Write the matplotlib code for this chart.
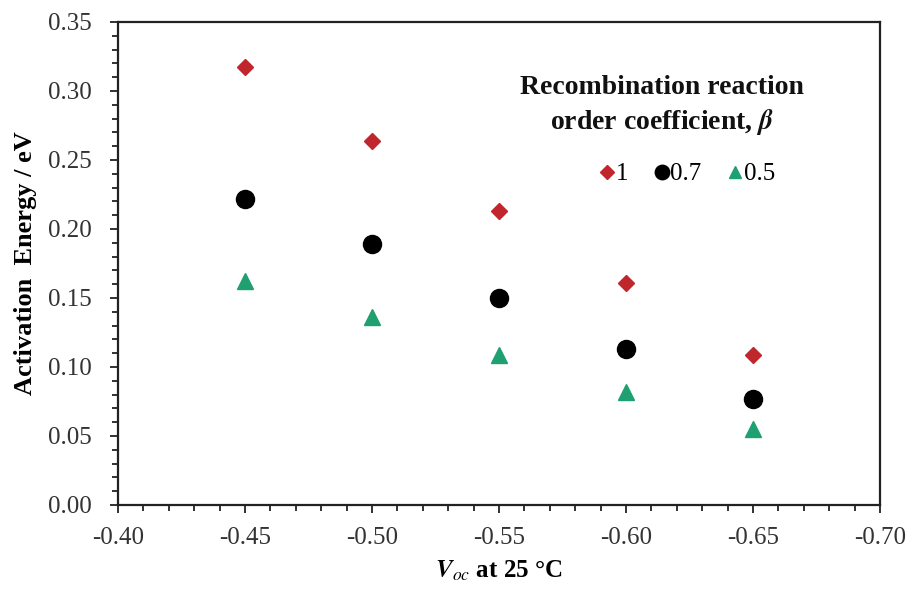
import matplotlib.pyplot as plt
from matplotlib.ticker import MultipleLocator, FormatStrFormatter

# data
voc = [-0.45, -0.50, -0.55, -0.60, -0.65]
ea_beta_1 = [0.317, 0.264, 0.213, 0.161, 0.109]
ea_beta_07 = [0.222, 0.189, 0.150, 0.113, 0.077]
ea_beta_05 = [0.162, 0.136, 0.109, 0.082, 0.055]
labels = ['1', '0.7', '0.5']

plt.rcParams['font.family'] = ['Liberation Serif', 'DejaVu Serif']
plt.rcParams['mathtext.fontset'] = 'stix'

fig = plt.figure(figsize=(9.11, 5.92), dpi=100)
ax = fig.add_axes([0.1295, 0.147, 0.8365, 0.816])

ax.plot(voc, ea_beta_1, 'D', color='#C0272D', markersize=8.5, label=labels[0], linestyle='none')
ax.plot(voc, ea_beta_07, 'o', color='black', markersize=13, label=labels[1], linestyle='none')
ax.plot(voc, ea_beta_05, '^', color='#1FA070', markersize=11.5, label=labels[2], linestyle='none')

ax.set_xlim(-0.40, -0.70)
ax.set_ylim(0, 0.35)
ax.xaxis.set_major_locator(MultipleLocator(0.05))
ax.xaxis.set_minor_locator(MultipleLocator(0.01))
ax.yaxis.set_major_locator(MultipleLocator(0.05))
ax.yaxis.set_minor_locator(MultipleLocator(0.01))
ax.xaxis.set_major_formatter(FormatStrFormatter('%.2f'))
ax.yaxis.set_major_formatter(FormatStrFormatter('%.2f'))

ax.tick_params(which='major', direction='out', length=6, width=1.3, labelsize=18,
               color='#222222', labelcolor='#333333')
ax.tick_params(which='minor', direction='out', length=4, width=1.3, color='#222222')
ax.tick_params(axis='x', pad=10)
ax.tick_params(axis='y', pad=13)
for s in ax.spines.values():
    s.set_linewidth(1.6)
    s.set_color('#222222')

ax.set_xlabel(r'$\mathbfit{V}_{\mathit{oc}}$ at 25 °C', fontsize=18, fontweight='bold', labelpad=7)
ax.set_ylabel('Activation  Energy / eV', fontsize=19, fontweight='bold', labelpad=8)

ax.text(0.714, 0.865, 'Recombination reaction', transform=ax.transAxes,
        ha='center', va='center', fontsize=20, fontweight='bold', color='#111111')
ax.text(0.714, 0.793, r'order coefficient, $\mathbfit{\beta}$', transform=ax.transAxes,
        ha='center', va='center', fontsize=20, fontweight='bold', color='#111111')

ax.legend(loc='center', bbox_to_anchor=(0.748, 0.685), ncol=3, frameon=False,
          fontsize=18, markerscale=0.8, handlelength=0.5, handletextpad=0.1,
          columnspacing=1.1, borderpad=0)

fig.savefig('out.png', dpi=100)
